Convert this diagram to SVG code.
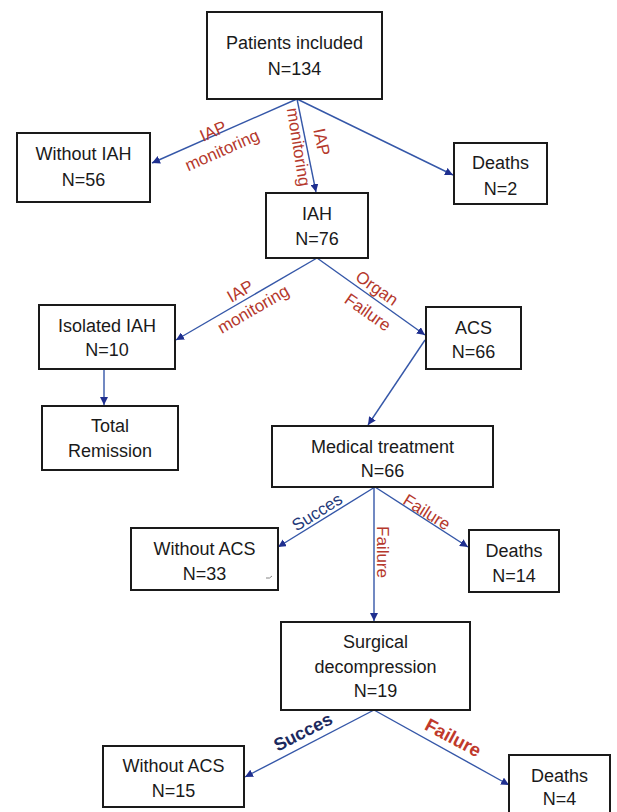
<svg xmlns="http://www.w3.org/2000/svg" width="617" height="812" viewBox="0 0 617 812">
<style>
.box{fill:#fff;stroke:#1a1a1a;stroke-width:2}
.t{font-family:"Liberation Sans",Arial,sans-serif;font-size:18px;fill:#1a1a1a;text-anchor:middle}
.e{fill:none;stroke:#3557a8;stroke-width:1.4}
.lr{font-family:"Liberation Sans",Arial,sans-serif;font-size:17px;fill:#b5382c;text-anchor:middle}
.lb{font-family:"Liberation Sans",Arial,sans-serif;font-size:17px;fill:#24397a;text-anchor:middle}
.bb{font-family:"Liberation Sans",Arial,sans-serif;font-size:18px;font-weight:bold;fill:#1c2a5e;text-anchor:middle}
.br{font-family:"Liberation Sans",Arial,sans-serif;font-size:18.5px;font-weight:bold;fill:#c0392b;text-anchor:middle}
</style>
<defs>
<marker id="ah" viewBox="0 0 10 10" refX="10" refY="5" markerWidth="8" markerHeight="8" markerUnits="userSpaceOnUse" orient="auto">
<path d="M0,0 L10,5 L0,10 Z" fill="#1f2f8f"/>
</marker>
</defs>
<rect width="617" height="812" fill="#fff"/>
<g id="connectors">
<line class="e" x1="297" y1="99" x2="152" y2="163" marker-end="url(#ah)"/>
<line class="e" x1="297" y1="99" x2="316" y2="192" marker-end="url(#ah)"/>
<line class="e" x1="297" y1="99" x2="453" y2="175" marker-end="url(#ah)"/>
<line class="e" x1="317" y1="258" x2="176" y2="340" marker-end="url(#ah)"/>
<line class="e" x1="317" y1="258" x2="425" y2="335" marker-end="url(#ah)"/>
<line class="e" x1="104" y1="369" x2="104" y2="405" marker-end="url(#ah)"/>
<line class="e" x1="425" y1="340" x2="368" y2="425" marker-end="url(#ah)"/>
<line class="e" x1="375" y1="487" x2="278" y2="547" marker-end="url(#ah)"/>
<line class="e" x1="375" y1="487" x2="468" y2="547" marker-end="url(#ah)"/>
<line class="e" x1="374" y1="487" x2="374" y2="621" marker-end="url(#ah)"/>
<line class="e" x1="374" y1="710" x2="245" y2="777" marker-end="url(#ah)"/>
<line class="e" x1="374" y1="710" x2="509" y2="785" marker-end="url(#ah)"/>
</g>
<g id="edge-labels">
<text class="lr" transform="rotate(-24 213 131)" x="213" y="137">IAP</text>
<text class="lr" transform="rotate(-24 222 150)" x="222" y="156">monitoring</text>
<text class="lr" transform="rotate(81 299 147)" x="299" y="153">monitoring</text>
<text class="lr" transform="rotate(78 322 142)" x="322" y="148">IAP</text>
<text class="lr" transform="rotate(-30 240 291)" x="240" y="297">IAP</text>
<text class="lr" transform="rotate(-30 253 309)" x="253" y="315">monitoring</text>
<text class="lr" transform="rotate(35 377 288)" x="377" y="294">Organ</text>
<text class="lr" transform="rotate(35 368 312)" x="368" y="318">Failure</text>
<text class="lb" transform="rotate(-32 317 512)" x="317" y="518">Succes</text>
<text class="lr" transform="rotate(32 427 512)" x="427" y="518">Failure</text>
<text class="lr" transform="rotate(90 383 552)" x="383" y="558">Failure</text>
<text class="bb" transform="rotate(-27 303 732)" x="303" y="738">Succes</text>
<text class="br" transform="rotate(28 453 738)" x="453" y="744">Failure</text>
</g>
<g id="n-patients"><rect class="box" x="207" y="12" width="175" height="87"/><text class="t" x="294.5" y="49">Patients included</text><text class="t" x="294.5" y="75">N=134</text></g>
<g id="n-without-iah"><rect class="box" x="17" y="133" width="133" height="69"/><text class="t" x="83.5" y="160">Without IAH</text><text class="t" x="83.5" y="186">N=56</text></g>
<g id="n-deaths-2"><rect class="box" x="454" y="143" width="93" height="61"/><text class="t" x="500.5" y="169">Deaths</text><text class="t" x="500.5" y="195">N=2</text></g>
<g id="n-iah"><rect class="box" x="266" y="193" width="102" height="65"/><text class="t" x="317" y="220">IAH</text><text class="t" x="317" y="245">N=76</text></g>
<g id="n-isolated"><rect class="box" x="39" y="305" width="136" height="64"/><text class="t" x="107" y="332">Isolated IAH</text><text class="t" x="107" y="356">N=10</text></g>
<g id="n-acs"><rect class="box" x="426" y="307" width="95" height="62"/><text class="t" x="473.5" y="334">ACS</text><text class="t" x="473.5" y="358">N=66</text></g>
<g id="n-remission"><rect class="box" x="42" y="406" width="136" height="64"/><text class="t" x="110" y="432">Total</text><text class="t" x="110" y="457">Remission</text></g>
<g id="n-medical"><rect class="box" x="272" y="426" width="221" height="61"/><text class="t" x="382.5" y="453">Medical treatment</text><text class="t" x="382.5" y="477">N=66</text></g>
<g id="n-without-acs-33"><rect class="box" x="131" y="528" width="147" height="62"/><text class="t" x="204.5" y="555">Without ACS</text><text class="t" x="204.5" y="580">N=33</text><path d="M266,578 q4,1 6,-2" fill="none" stroke="#666" stroke-width="0.8"/></g>
<g id="n-deaths-14"><rect class="box" x="469" y="530" width="90" height="62"/><text class="t" x="514" y="557">Deaths</text><text class="t" x="514" y="582">N=14</text></g>
<g id="n-surgical"><rect class="box" x="281" y="622" width="189" height="88"/><text class="t" x="375.5" y="648">Surgical</text><text class="t" x="375.5" y="673">decompression</text><text class="t" x="375.5" y="697">N=19</text></g>
<g id="n-without-acs-15"><rect class="box" x="103" y="746" width="141" height="61"/><text class="t" x="173.5" y="772">Without ACS</text><text class="t" x="173.5" y="797">N=15</text></g>
<g id="n-deaths-4"><rect class="box" x="509" y="755" width="101" height="70"/><text class="t" x="559.5" y="782">Deaths</text><text class="t" x="559.5" y="805">N=4</text></g>
</svg>
